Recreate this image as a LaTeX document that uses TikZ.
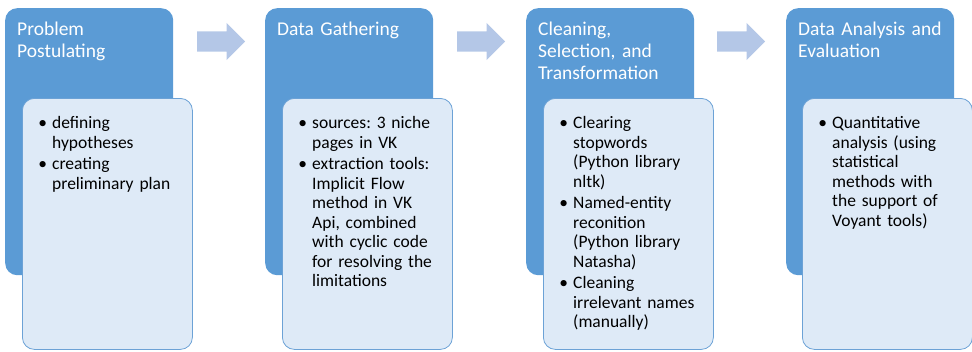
\documentclass[tikz,border=0pt]{standalone}
\usepackage{fontspec}
\setmainfont{Carlito}
\usepackage{enumitem}
\usetikzlibrary{shapes.arrows}

\definecolor{phaseblue}{RGB}{91,155,213}
\definecolor{detailfill}{RGB}{222,234,247}
\definecolor{detailedge}{RGB}{108,162,214}
\definecolor{flowblue}{RGB}{180,199,231}

\frenchspacing

\tikzset{
  phase/.style={fill=phaseblue, rounded corners=12pt, anchor=north west,
    minimum width=168pt, minimum height=267pt, inner sep=0pt},
  phasetitle/.style={anchor=base west, inner sep=0pt, text=white,
    text width=160pt, font=\fontsize{19.5}{22}\selectfont},
  detail/.style={draw=detailedge, line width=0.8pt, fill=detailfill,
    rounded corners=12pt, anchor=north west,
    minimum width=170pt, minimum height=251pt, inner sep=0pt},
  items/.style={anchor=base west, inner sep=0pt, text width=148pt,
    font=\fontsize{17.5}{19.5}\selectfont},
  flow/.style={single arrow, fill=flowblue, anchor=west,
    inner xsep=0pt, inner ysep=10pt, minimum height=48pt,
    single arrow head extend=8.5pt, single arrow head indent=0pt}
}
\setlist[itemize]{label=\textbullet, leftmargin=12pt, labelsep=5pt,
  itemsep=2pt, topsep=0pt, parsep=0pt, partopsep=0pt}

\begin{document}
\begin{tikzpicture}[x=1pt, y=-1pt]
  \useasboundingbox (0,0) rectangle (972,351);

  % dark phase boxes with their titles
  \node[phase] (p1) at (5,8) {};
  \node[phase] (p2) at (265,8) {};
  \node[phase] (p3) at (526,8) {};
  \node[phase] (p4) at (786,8) {};
  \node[phasetitle] (t1) at (17,35) {Problem\\Postulating};
  \node[phasetitle] (t2) at (277,35) {Data Gathering};
  \node[phasetitle] (t3) at (538,35) {Cleaning,\\Selection, and\\Transformation};
  \node[phasetitle] (t4) at (798,35) {Data Analysis and\\Evaluation};

  % arrows between phases
  \node[flow] (f1) at (197,41.5) {};
  \node[flow] (f2) at (457,41.5) {};
  \node[flow] (f3) at (717,41.5) {};

  % light detail boxes
  \node[detail] (d1) at (22,98) {};
  \node[detail] (d2) at (282,98) {};
  \node[detail] (d3) at (543,98) {};
  \node[detail] (d4) at (802,98) {};

  \node[items] (l1) at (40,109) {%
    \begin{itemize}
      \item defining\\hypotheses
      \item creating\\preliminary plan
    \end{itemize}};
  \node[items] (l2) at (300,109) {%
    \begin{itemize}
      \item sources: 3 niche\\pages in VK
      \item extraction tools:\\Implicit Flow\\method in VK\\Api, combined\\with cyclic code\\for resolving the\\limitations
    \end{itemize}};
  \node[items] (l3) at (561,109) {%
    \begin{itemize}
      \item Clearing\\stopwords\\(Python library\\nltk)
      \item Named-entity\\reconition\\(Python library\\Natasha)
      \item Cleaning\\irrelevant names\\(manually)
    \end{itemize}};
  \node[items] (l4) at (820,109) {%
    \begin{itemize}
      \item Quantitative\\analysis (using\\statistical\\methods with\\the support of\\Voyant tools)
    \end{itemize}};
\end{tikzpicture}
\end{document}
